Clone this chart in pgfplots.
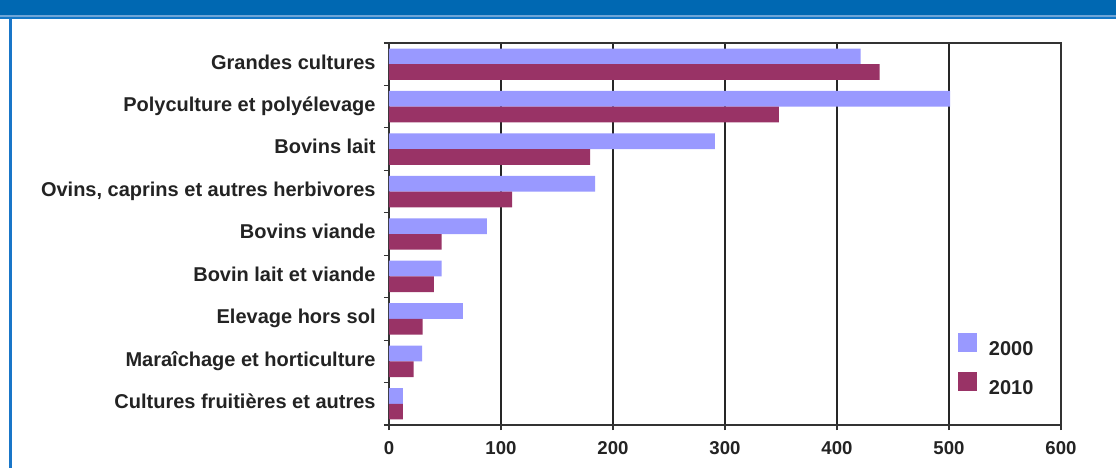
\documentclass[border=0pt]{standalone}
\usepackage{fontspec}
\setmainfont{Liberation Sans}
\usepackage{pgfplots}
\pgfplotsset{compat=1.18}
\definecolor{bandblue}{RGB}{0,104,178}
\definecolor{bandlight}{RGB}{110,165,215}
\definecolor{bandmid}{RGB}{20,120,200}
\definecolor{borderblue}{RGB}{25,118,200}
\definecolor{cA}{HTML}{9999FF}
\definecolor{cB}{HTML}{993366}
\definecolor{txt}{RGB}{35,35,35}
\begin{document}
\begin{tikzpicture}
\path[use as bounding box] (0,0) rectangle (558pt,234pt);
\fill[white] (0,0) rectangle (558pt,234pt);
\fill[bandblue] (0,226.5pt) rectangle (558pt,234pt);
\fill[bandlight] (0,225.75pt) rectangle (558pt,226.5pt);
\fill[bandmid] (0,224.5pt) rectangle (558pt,225.75pt);
\fill[borderblue] (4.5pt,0) rectangle (6pt,224.5pt);
\begin{axis}[
  at={(194.5pt,21.5pt)}, anchor=south west,
  scale only axis, width=336pt, height=191pt,
  xbar, bar width=0.37,
  xmin=0, xmax=600, ymin=-0.5, ymax=8.5,
  xtick={0,100,...,600},
  ytick={-0.5,0.5,...,8.5},
  yticklabels={},
  extra y ticks={0,...,8},
  extra y tick labels={Cultures fruitières et autres,Maraîchage et horticulture,Elevage hors sol,Bovin lait et viande,Bovins viande,{Ovins, caprins et autres herbivores},Bovins lait,Polyculture et polyélevage,Grandes cultures},
  extra y tick style={tick style={draw=none}},
  tick pos=left,
  tick align=outside,
  major tick length=2.5pt,
  tick style={line width=0.6pt, black!80},
  xmajorgrids, grid style={line width=0.6pt, black!85},
  axis line style={line width=0.8pt, black!80},
  /pgf/number format/assume math mode=true,
  yticklabel style={font=\fontsize{10}{12}\selectfont\bfseries, text=txt, inner sep=0pt, xshift=-4pt, text height=7pt, text depth=2.2pt},
  xticklabel style={font=\fontsize{9.3}{11}\selectfont\bfseries, text=txt, inner sep=0pt, text height=6.8pt, text depth=0pt, yshift=-5pt},
  legend style={at={(0.8467,0.2408)}, anchor=north west, draw=none, fill=none, inner sep=0pt, outer sep=0pt, row sep=7pt, column sep=6pt, font=\fontsize{10}{12}\selectfont\bfseries, text=txt, nodes={inner sep=0pt}},
  legend cell align=left,
  legend image code/.code={\fill[#1] (0pt,-1.2pt) rectangle (9.5pt,8.3pt);},
]
\addplot[fill=cA, draw=none, bar shift=0.185] coordinates {
 (12.5,0) (29.5,1) (66,2) (47,3) (87.5,4) (184,5) (291,6) (501,7) (421,8)};
\addplot[fill=cB, draw=none, bar shift=-0.185] coordinates {
 (12.5,0) (22,1) (30,2) (40,3) (47,4) (110,5) (179.5,6) (348,7) (438,8)};
\legend{2000,2010}
\end{axis}
\end{tikzpicture}
\end{document}
